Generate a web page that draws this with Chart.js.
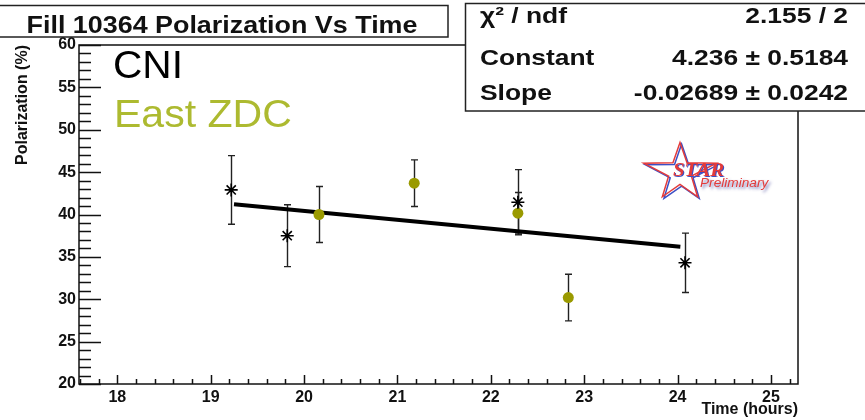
<!DOCTYPE html>
<html>
<head>
<meta charset="utf-8">
<script src="https://cdn.jsdelivr.net/npm/chart.js@4"></script>
<style>
  body { margin: 0; background: #fff; }
  #wrap { width: 865px; height: 420px; }
</style>
</head>
<body>
<div id="wrap"><canvas id="pol-chart" width="865" height="420"></canvas></div>
<script>
// CNI polarimeter points (time in hours, polarization in %)
var cniTime = [19.22, 19.82, 22.29, 24.08];
var cniPol  = [42.9, 37.5, 41.45, 34.3];
var cniErr  = [4.05, 3.65, 3.85, 3.5];

// East ZDC points
var zdcTime = [20.16, 21.18, 22.29, 22.83];
var zdcPol  = [40.0, 43.7, 40.15, 30.2];
var zdcErr  = [3.3, 2.75, 2.45, 2.75];

// fitted line, ends
var fitTime = [19.25, 24.03];
var fitPol  = [41.2, 36.2];

var xTicks = [18, 19, 20, 21, 22, 23, 24, 25];
var yTicks = [20, 25, 30, 35, 40, 45, 50, 55, 60];

var statNames  = ['χ² / ndf', 'Constant', 'Slope'];
var statValues = ['2.155 / 2', '4.236 ± 0.5184', '-0.02689 ± 0.0242'];

var FONT = "'Liberation Sans', Arial, Helvetica, sans-serif";

function toPoints(xs, ys) {
    return xs.map(function (x, i) { return { x: x, y: ys[i] }; });
}

// text in the original is a bit wider than plain Helvetica
function wideText(ctx, text, x, y, sx, align) {
    ctx.save();
    ctx.translate(x, y);
    ctx.scale(sx, 1);
    ctx.textAlign = align || 'left';
    ctx.fillText(text, 0, 0);
    ctx.restore();
}

// frame with inward ticks, like a ROOT pad
var frame = {
    id: 'frame',
    beforeDatasetsDraw: function (chart) {
        var ctx = chart.ctx, a = chart.chartArea,
            xs = chart.scales.x, ys = chart.scales.y;
        ctx.save();
        ctx.strokeStyle = '#111';
        ctx.lineWidth = 1.5;
        ctx.strokeRect(a.left, a.top, a.right - a.left, a.bottom - a.top);
        ctx.beginPath();
        for (var v = 20; v <= 60; v++) {
            var py = Math.round(ys.getPixelForValue(v)) + 0.5;
            ctx.moveTo(a.left, py);
            ctx.lineTo(a.left + (v % 5 === 0 ? 22 : 12), py);
        }
        for (var k = Math.ceil(xs.min * 5); k <= xs.max * 5; k++) {
            var px = Math.round(xs.getPixelForValue(k / 5)) + 0.5;
            ctx.moveTo(px, a.bottom);
            ctx.lineTo(px, a.bottom - (k % 5 === 0 ? 9 : 5));
        }
        ctx.stroke();
        ctx.restore();
    }
};

var errorBars = {
    id: 'errorBars',
    beforeDatasetsDraw: function (chart) {
        var ctx = chart.ctx, xs = chart.scales.x, ys = chart.scales.y;
        ctx.save();
        ctx.strokeStyle = '#222';
        ctx.lineWidth = 1.4;
        [[cniTime, cniPol, cniErr], [zdcTime, zdcPol, zdcErr]].forEach(function (s) {
            s[0].forEach(function (t, i) {
                var px = Math.round(xs.getPixelForValue(t)) + 0.5;
                var top = ys.getPixelForValue(s[1][i] + s[2][i]);
                var bot = ys.getPixelForValue(s[1][i] - s[2][i]);
                ctx.beginPath();
                ctx.moveTo(px, top); ctx.lineTo(px, bot);
                ctx.moveTo(px - 3.5, top); ctx.lineTo(px + 3.5, top);
                ctx.moveTo(px - 3.5, bot); ctx.lineTo(px + 3.5, bot);
                ctx.stroke();
            });
        });
        ctx.restore();
    }
};

function drawStarLogo(ctx) {
    var cx = 680, cy = 172.5, R = 30, r = 12;
    var pts = [];
    for (var k = 0; k < 10; k++) {
        var ang = -Math.PI / 2 + k * Math.PI / 5;
        var rad = k % 2 ? r : R;
        var px = Math.cos(ang) * rad, py = Math.sin(ang) * rad;
        if (k === 2 || k === 8) px *= 1.27;
        pts.push([cx + px, cy + py]);
    }
    function outline(dx, dy, col) {
        ctx.beginPath();
        pts.forEach(function (p, i) {
            if (i === 0) ctx.moveTo(p[0] + dx, p[1] + dy); else ctx.lineTo(p[0] + dx, p[1] + dy);
        });
        ctx.closePath();
        ctx.strokeStyle = col;
        ctx.lineWidth = 1.5;
        ctx.stroke();
    }
    outline(1.6, 1.6, '#3d4fc4');
    outline(0, 0, '#e33b3b');

    ctx.font = "bold italic 19px 'Liberation Serif', serif";
    ctx.fillStyle = '#3d4fc4';
    wideText(ctx, 'STAR', 674, 177, 1.1);
    ctx.fillStyle = '#e33b3b';
    wideText(ctx, 'STAR', 673, 176, 1.1);

    ctx.save();
    ctx.font = 'italic 13px ' + FONT;
    ctx.shadowColor = 'rgba(60,60,150,0.7)';
    ctx.shadowBlur = 3;
    ctx.shadowOffsetX = 2;
    ctx.shadowOffsetY = 2;
    ctx.fillStyle = '#e33b3b';
    wideText(ctx, 'Preliminary', 700, 187, 1.05);
    ctx.restore();
}

var notes = {
    id: 'notes',
    afterDraw: function (chart) {
        var ctx = chart.ctx;
        ctx.save();
        ctx.textBaseline = 'alphabetic';

        // title box
        ctx.fillStyle = '#fff';
        ctx.fillRect(-2, 5, 450, 32);
        ctx.strokeStyle = '#222';
        ctx.lineWidth = 1.5;
        ctx.strokeRect(-2, 5.5, 450, 31.5);
        ctx.fillStyle = '#111';
        ctx.font = 'bold 24px ' + FONT;
        wideText(ctx, 'Fill 10364 Polarization Vs Time', 222, 33, 1.12, 'center');

        // fit statistics box
        ctx.fillStyle = '#fff';
        ctx.fillRect(465, 3, 410, 108);
        ctx.strokeRect(465.5, 3.5, 410, 107.5);
        ctx.fillStyle = '#111';
        ctx.font = 'bold 22px ' + FONT;
        var rows = [23, 65, 100];
        statNames.forEach(function (n, i) {
            wideText(ctx, n, 480, rows[i], 1.2, 'left');
            wideText(ctx, statValues[i], 848, rows[i], 1.2, 'right');
        });

        // legend texts
        ctx.font = '38px ' + FONT;
        ctx.fillStyle = '#000';
        wideText(ctx, 'CNI', 113, 78, 1.07, 'left');
        ctx.fillStyle = '#adba30';
        wideText(ctx, 'East ZDC', 114, 127, 1.08, 'left');

        drawStarLogo(ctx);
        ctx.restore();
    }
};

var tickFont = { family: FONT, size: 16, weight: 'bold' };
var titleFont = { family: FONT, size: 16, weight: 'bold' };

new Chart(document.getElementById('pol-chart').getContext('2d'), {
    type: 'scatter',
    data: {
        datasets: [{
            label: 'CNI',
            data: toPoints(cniTime, cniPol),
            pointStyle: 'star',
            pointRadius: 6.5,
            borderColor: '#000',
            backgroundColor: '#000',
            pointBorderWidth: 1.6,
            order: 1
        }, {
            label: 'East ZDC',
            data: toPoints(zdcTime, zdcPol),
            pointStyle: 'circle',
            pointRadius: 5.5,
            backgroundColor: '#9a9a00',
            borderColor: '#9a9a00',
            pointBorderWidth: 0,
            order: 2
        }, {
            type: 'line',
            label: 'fit',
            data: toPoints(fitTime, fitPol),
            borderColor: '#000',
            borderWidth: 4,
            pointRadius: 0,
            fill: false,
            order: 3
        }]
    },
    options: {
        responsive: false,
        animation: false,
        layout: { padding: { left: 0, top: 45, right: 67, bottom: 0 } },
        plugins: { legend: { display: false }, tooltip: { enabled: false } },
        scales: {
            x: {
                type: 'linear',
                min: 17.59,
                max: 25.29,
                grid: { display: false, drawTicks: false },
                border: { display: false },
                afterBuildTicks: function (s) { s.ticks = xTicks.map(function (v) { return { value: v }; }); },
                afterFit: function (s) { s.height = 36; },
                ticks: { font: tickFont, color: '#111', padding: 4, maxRotation: 0, autoSkip: false },
                title: { display: true, text: 'Time (hours)', align: 'end', font: titleFont, color: '#111', padding: { top: 0, bottom: 1 } }
            },
            y: {
                min: 20,
                max: 60,
                grid: { display: false, drawTicks: false },
                border: { display: false },
                afterBuildTicks: function (s) { s.ticks = yTicks.map(function (v) { return { value: v }; }); },
                afterFit: function (s) { s.width = 79; },
                ticks: { font: tickFont, color: '#111', padding: 3, autoSkip: false },
                title: { display: true, text: 'Polarization (%)', align: 'end', font: titleFont, color: '#111', padding: { top: 13, bottom: 0 } }
            }
        }
    },
    plugins: [frame, errorBars, notes]
});
</script>
</body>
</html>
